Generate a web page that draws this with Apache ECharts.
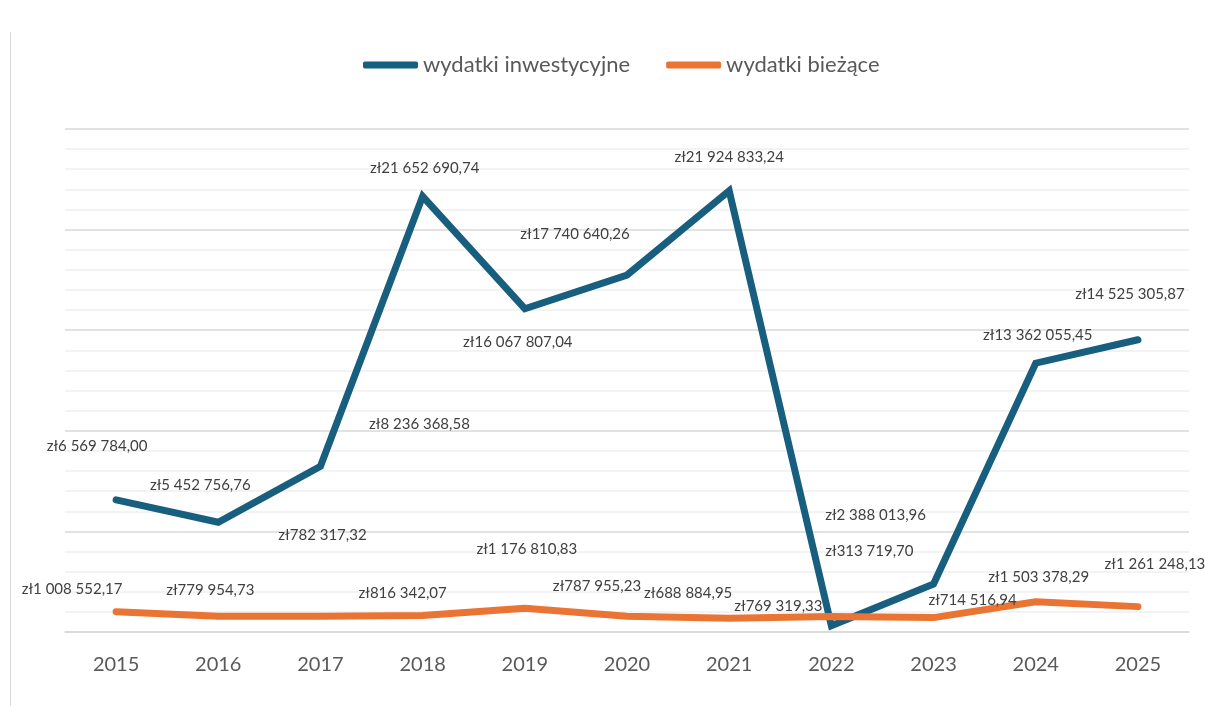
<!DOCTYPE html>
<html>
<head>
<meta charset="utf-8">
<title>Wydatki</title>
<script src="https://cdn.jsdelivr.net/npm/echarts@6/dist/echarts.min.js"></script>
<style>
  html, body { margin: 0; padding: 0; background: #fff; }
  #main { width: 1205px; height: 706px; }
</style>
</head>
<body>
<div id="main"></div>
<script>
// dane
var years = ['2015', '2016', '2017', '2018', '2019', '2020', '2021', '2022', '2023', '2024', '2025'];
var inwestycyjne = [6569784.00, 5452756.76, 8236368.58, 21652690.74, 16067807.04, 17740640.26,
                    21924833.24, 313719.70, 2388013.96, 13362055.45, 14525305.87];
var biezace = [1008552.17, 779954.73, 782317.32, 816342.07, 1176810.83, 787955.23,
               688884.95, 769319.33, 714516.94, 1503378.29, 1261248.13];

// przesunięcia etykiet (jak w oryginale, ręcznie ustawione)
var offInw = [[-19, -54], [-18, -37], [99, -42], [2, -28], [-7, 33], [-52, -41],
              [0, -34], [38, -75], [-58, -69], [2, -28], [-8, -46]];
var offBie = [[-44, -23], [-8, -26], [2, -81], [-20, -22], [2, -59], [-30, -30],
              [-41, -25], [-53, -10], [39, -17], [3, -25], [17, -42]];

function zl(v) {
  var parts = v.toFixed(2).split('.');
  var intPart = parts[0].replace(/\B(?=(\d{3})+(?!\d))/g, ' ');
  return 'zł' + intPart + ',' + parts[1];
}

function withLabels(values, offsets) {
  return values.map(function (v, i) {
    return { value: v, label: { offset: offsets[i] } };
  });
}

var myChart = echarts.init(document.getElementById('main'));

var labelStyle = {
  show: true,
  position: 'inside',
  fontFamily: 'Lato',
  fontSize: 15,
  color: '#404040',
  formatter: function (p) { return zl(p.value); }
};

myChart.setOption({
  animation: false,
  textStyle: { fontFamily: 'Lato' },
  graphic: [{
    type: 'line',
    shape: { x1: 10.5, y1: 32, x2: 10.5, y2: 706 },
    style: { stroke: '#d9d9d9', lineWidth: 1 }
  }],
  legend: {
    top: 49,
    left: 358,
    itemWidth: 55,
    itemHeight: 7,
    itemGap: 36,
    icon: 'roundRect',
    textStyle: { fontFamily: 'Lato', fontSize: 22, color: '#595959' },
    data: ['wydatki inwestycyjne', 'wydatki bieżące']
  },
  grid: { left: 65, right: 16, top: 129, bottom: 74, containLabel: false },
  xAxis: {
    type: 'category',
    data: years,
    boundaryGap: true,
    axisLine: { lineStyle: { color: '#d9d9d9', width: 1.5 } },
    axisTick: { show: false },
    axisLabel: { fontFamily: 'Lato', fontSize: 20, color: '#595959', margin: 23 }
  },
  yAxis: {
    type: 'value',
    min: 0,
    max: 25000000,
    interval: 5000000,
    axisLabel: { show: false },
    axisLine: { show: false },
    axisTick: { show: false },
    splitLine: { lineStyle: { color: '#d9d9d9', width: 1.5 } },
    minorTick: { show: false, splitNumber: 5 },
    minorSplitLine: { show: true, lineStyle: { color: '#f0f0f0', width: 1.5 } }
  },
  series: [
    {
      name: 'wydatki inwestycyjne',
      type: 'line',
      data: withLabels(inwestycyjne, offInw),
      symbol: 'circle',
      symbolSize: 1,
      color: '#175e7f',
      lineStyle: { width: 7, color: '#175e7f', cap: 'round', join: 'miter' },
      label: labelStyle,
      z: 3
    },
    {
      name: 'wydatki bieżące',
      type: 'line',
      data: withLabels(biezace, offBie),
      symbol: 'circle',
      symbolSize: 1,
      color: '#ea7434',
      lineStyle: { width: 7, color: '#ea7434', cap: 'round' },
      label: labelStyle,
      z: 4
    }
  ]
});
</script>
</body>
</html>
